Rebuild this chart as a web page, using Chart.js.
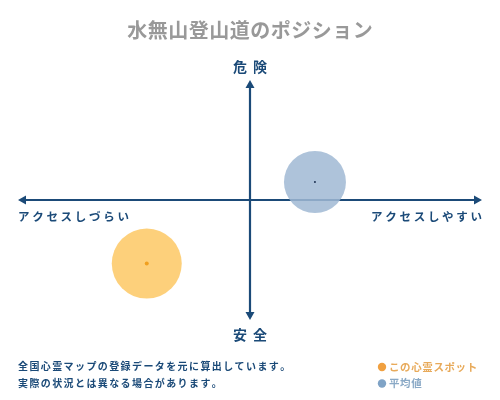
<!DOCTYPE html>
<html>
<head>
<meta charset="utf-8">
<script src="https://cdn.jsdelivr.net/npm/chart.js@4"></script>
<style>
html,body{margin:0;padding:0;background:#fff;}
#wrap{width:500px;height:400px;}
</style>
</head>
<body>
<div id="wrap"><canvas id="myChart" width="500" height="400"></canvas></div>
<script>
const titleText = '水無山登山道のポジション'
const topLabel = '危険'
const bottomLabel = '安全'
const leftLabel = 'アクセスしづらい'
const rightLabel = 'アクセスしやすい'
const notes = ['全国心霊マップの登録データを元に算出しています。', '実際の状況とは異なる場合があります。']

const seriesNames = ['この心霊スポット', '平均値']
const accessValues = [-4.45, 2.8]   // x: アクセス
const dangerValues = [-5.3, 1.5]   // y: 危険度
const bubbleSizes = [35, 31]

const navy = '#1b4a78'
const fontFam = '"Noto Sans CJK JP", "Noto Sans", sans-serif'

function spaced(ctx, text, x, y, gap, align){
    // draws text char by char with letter spacing
    var w = 0
    var widths = []
    for (var i = 0; i < text.length; i++){
        var cw = ctx.measureText(text[i]).width
        widths.push(cw)
        w += cw + (i < text.length - 1 ? gap : 0)
    }
    var sx = x
    if (align === 'center') sx = x - w / 2
    if (align === 'right') sx = x - w
    ctx.textAlign = 'left'
    for (var j = 0; j < text.length; j++){
        ctx.fillText(text[j], sx, y)
        sx += widths[j] + gap
    }
}

const axesPlugin = {
    id: 'quadAxes',
    beforeDatasetsDraw(chart){
        var ctx = chart.ctx
        var xs = chart.scales.x, ys = chart.scales.y
        var cx = xs.getPixelForValue(0), cy = ys.getPixelForValue(0)
        var l = xs.left, r = xs.right, t = ys.top, b = ys.bottom
        ctx.save()
        ctx.strokeStyle = navy
        ctx.fillStyle = navy
        ctx.lineWidth = 2.2
        ctx.beginPath()
        ctx.moveTo(l + 4, cy); ctx.lineTo(r - 4, cy)
        ctx.moveTo(cx, t + 4); ctx.lineTo(cx, b - 4)
        ctx.stroke()
        // arrow heads
        ctx.beginPath()
        ctx.moveTo(l, cy); ctx.lineTo(l + 8, cy - 4.5); ctx.lineTo(l + 8, cy + 4.5); ctx.closePath()
        ctx.moveTo(r, cy); ctx.lineTo(r - 8, cy - 4.5); ctx.lineTo(r - 8, cy + 4.5); ctx.closePath()
        ctx.moveTo(cx, t); ctx.lineTo(cx - 4.5, t + 8); ctx.lineTo(cx + 4.5, t + 8); ctx.closePath()
        ctx.moveTo(cx, b); ctx.lineTo(cx - 4.5, b - 8); ctx.lineTo(cx + 4.5, b - 8); ctx.closePath()
        ctx.fill()
        ctx.restore()
    },
    afterDraw(chart){
        var ctx = chart.ctx
        var xs = chart.scales.x, ys = chart.scales.y
        var cx = xs.getPixelForValue(0), cy = ys.getPixelForValue(0)
        ctx.save()
        ctx.textBaseline = 'middle'

        ctx.fillStyle = '#999999'
        ctx.font = 'bold 20px ' + fontFam
        spaced(ctx, titleText, 250, 30, 0.5, 'center')

        ctx.fillStyle = navy
        ctx.font = 'bold 14px ' + fontFam
        spaced(ctx, topLabel, cx, 67, 6, 'center')
        spaced(ctx, bottomLabel, cx, 335, 6, 'center')

        ctx.font = 'bold 11.5px ' + fontFam
        spaced(ctx, leftLabel, xs.left, cy + 17, 2.7, 'left')
        spaced(ctx, rightLabel, xs.right, cy + 17, 2.7, 'right')

        ctx.font = 'bold 10px ' + fontFam
        spaced(ctx, notes[0], 18, 366, 1.4, 'left')
        spaced(ctx, notes[1], 18, 383, 1.4, 'left')

        // legend
        var legCols = ['#f0a040', '#7fa3c6']
        var legText = ['#e8aa5a', '#8aa9c6']
        for (var i = 0; i < seriesNames.length; i++){
            var ly = 367 + i * 16.5
            ctx.fillStyle = legCols[i]
            ctx.beginPath()
            ctx.arc(382, ly, 4.2, 0, Math.PI * 2)
            ctx.fill()
            ctx.fillStyle = legText[i]
            ctx.font = 'bold 10.5px ' + fontFam
            spaced(ctx, seriesNames[i], 389, ly, 0.6, 'left')
        }
        ctx.restore()
    }
}

var myChart = document.getElementById('myChart').getContext('2d')

var chart = new Chart(myChart, {
    type: 'bubble',
    data: {
        datasets: [
            {
                label: seriesNames[0],
                data: [{x: accessValues[0], y: dangerValues[0], r: bubbleSizes[0]}],
                backgroundColor: 'rgba(253, 200, 100, 0.85)',
                borderWidth: 0,
                order: 2
            },
            {
                label: seriesNames[1],
                data: [{x: accessValues[1], y: dangerValues[1], r: bubbleSizes[1]}],
                backgroundColor: 'rgba(160, 185, 211, 0.85)',
                borderWidth: 0,
                order: 2
            },
            {
                type: 'scatter',
                label: 'center1',
                data: [{x: accessValues[0], y: dangerValues[0]}],
                backgroundColor: '#f0a020',
                pointRadius: 2,
                borderWidth: 0,
                order: 1
            },
            {
                type: 'scatter',
                label: 'center2',
                data: [{x: accessValues[1], y: dangerValues[1]}],
                backgroundColor: '#1b3050',
                pointRadius: 1,
                borderWidth: 0,
                order: 1
            }
        ]
    },
    options: {
        responsive: false,
        animation: false,
        layout: {autoPadding: false, padding: {left: 18, right: 18, top: 80, bottom: 80}},
        scales: {
            x: {display: false, min: -10, max: 10},
            y: {display: false, min: -10, max: 10}
        },
        plugins: {
            legend: {display: false},
            tooltip: {enabled: false},
            title: {display: false}
        }
    },
    plugins: [axesPlugin]
});
</script>
</body>
</html>
